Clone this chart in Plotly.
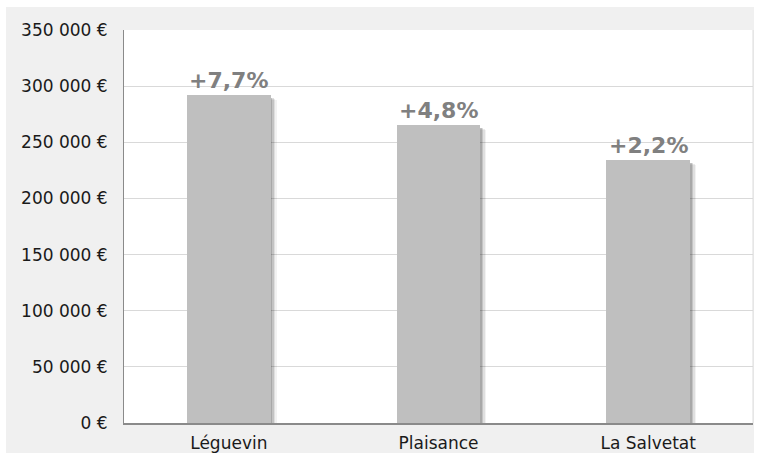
import plotly.graph_objects as go

# Prix moyen par commune et évolution annuelle
communes = ["Léguevin", "Plaisance", "La Salvetat"]
prix = [292500, 265500, 234000]
evolution = ["+7,7%", "+4,8%", "+2,2%"]

tick_vals = [0, 50000, 100000, 150000, 200000, 250000, 300000, 350000]
tick_text = ["0 €", "50 000 €", "100 000 €", "150 000 €", "200 000 €",
             "250 000 €", "300 000 €", "350 000 €"]

W, H = 768, 455
L, R, T, B = 124, 15, 30, 32
plot_w = W - L - R
plot_h = H - T - B
y_max = 350000
bar_w = 0.4
px_x = len(communes) / plot_w          # category units per pixel
px_y = y_max / plot_h                  # data units per pixel

fig = go.Figure()

# soft drop shadow, right and slightly below the top of each bar
for dx, dy, alpha in [(1.5, 3, 0.14), (3, 3, 0.12), (4.5, 4, 0.08), (6, 5, 0.05)]:
    fig.add_trace(go.Bar(
        x=communes, y=[v - dy * px_y for v in prix],
        width=bar_w, offset=-bar_w / 2 + dx * px_x,
        marker=dict(color=f"rgba(0,0,0,{alpha})", line=dict(width=0)),
        hoverinfo="skip", showlegend=False,
    ))

fig.add_trace(go.Bar(
    x=communes, y=prix, width=bar_w, offset=-bar_w / 2,
    marker=dict(color="#bfbfbf", line=dict(width=0)),
    showlegend=False,
))

for c, v, t in zip(communes, prix, evolution):
    fig.add_annotation(
        x=c, y=v, text=f"<b>{t}</b>", showarrow=False,
        xanchor="center", yanchor="bottom", yshift=0,
        font=dict(family="DejaVu Sans", size=22, color="#808080"),
    )

# grey panel behind the chart, white plotting area
fig.add_shape(type="rect", xref="paper", yref="paper",
              x0=(6 - L) / plot_w, x1=(754 - L) / plot_w,
              y0=(T + plot_h - 453) / plot_h, y1=(T + plot_h - 7) / plot_h,
              fillcolor="#f0f0f0", line=dict(width=0), layer="below")
fig.add_shape(type="rect", xref="paper", yref="paper",
              x0=0, x1=1, y0=0, y1=1,
              fillcolor="#ffffff", line=dict(width=0), layer="below")
fig.add_shape(type="line", xref="paper", yref="paper",
              x0=1, x1=1, y0=0, y1=1,
              line=dict(color="#dcdcdc", width=1), layer="below")

fig.update_layout(
    width=W, height=H,
    margin=dict(l=L, r=R, t=T, b=B),
    paper_bgcolor="#ffffff", plot_bgcolor="rgba(0,0,0,0)",
    barmode="overlay", bargap=0,
    font=dict(family="DejaVu Sans", size=17, color="#1a1a1a"),
    xaxis=dict(
        showgrid=False, showline=True, linecolor="#8a8a8a", linewidth=2,
        ticks="", tickfont=dict(size=17), fixedrange=True,
        ticklabelstandoff=4, automargin=False,
    ),
    yaxis=dict(
        range=[0, y_max], tickvals=tick_vals, ticktext=tick_text,
        showgrid=True, gridcolor="#d9d9d9", gridwidth=1,
        showline=True, linecolor="#8a8a8a", linewidth=1,
        zeroline=False, ticks="", ticklabelstandoff=12,
        tickfont=dict(size=17), automargin=False,
    ),
)

fig.write_html("out.html")
